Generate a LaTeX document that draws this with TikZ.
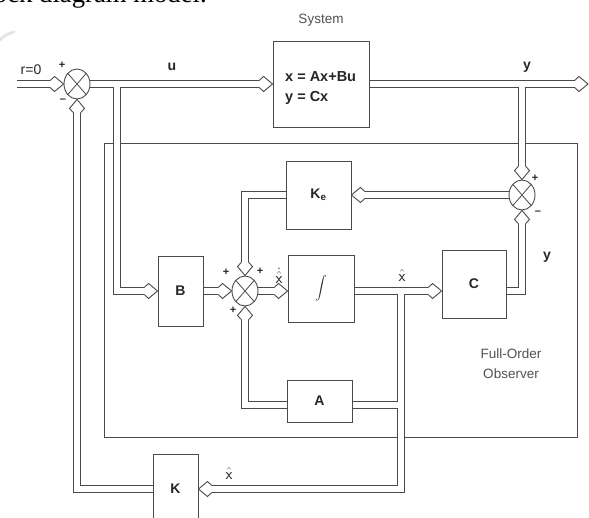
\documentclass[tikz,border=0pt]{standalone}
\usepackage{fontspec}
\setmainfont{Liberation Sans}
\newfontfamily\capfont{Liberation Serif}
\usetikzlibrary{shapes.geometric}
\pgfdeclarelayer{obs}\pgfdeclarelayer{po}\pgfdeclarelayer{pi}\pgfdeclarelayer{heads}
\pgfsetlayers{obs,po,pi,main,heads}
\definecolor{lc}{HTML}{4A4A4A}
\definecolor{tc}{HTML}{262626}
\tikzset{
 pipeouter/.style={draw=lc, line width=7.8pt, line join=miter},
 pipeinner/.style={draw=white, line width=6pt, line join=miter},
 blk/.style={draw=lc, fill=white, line width=0.9pt, rectangle, inner sep=0pt,
   font=\fontsize{14}{16}\selectfont\bfseries, text=tc},
 sumj/.style={ellipse, draw=lc, fill=white, line width=0.9pt, minimum width=26pt,
   minimum height=30pt, inner sep=0pt,
   path picture={\draw[lc, line width=0.8pt]
     (path picture bounding box.north west) -- (path picture bounding box.south east)
     (path picture bounding box.north east) -- (path picture bounding box.south west);}},
 lbl/.style={font=\fontsize{14}{16}\selectfont\bfseries, text=tc, inner sep=0pt},
 hatlbl/.style={font=\fontsize{16}{18}\selectfont, text=tc, inner sep=0pt},
 thin/.style={font=\fontsize{13.5}{20}\selectfont, text=tc!80, inner sep=0pt},
 sgn/.style={font=\fontsize{11}{11}\selectfont\bfseries, text=tc, inner sep=0pt},
 hh/.pic={
   \fill[white] (-13,-3.4) -- (-9,-7.5) -- (0,0) -- (-9,7.5) -- (-13,3.4) -- cycle;
   \draw[lc, line width=0.9pt, line join=miter] (-13,-3.9) -- (-9,-7.5) -- (0,0) -- (-9,7.5) -- (-13,3.9);
 }
}
\newcommand\pipe[2][]{%
 \begin{pgfonlayer}{po}\path[pipeouter,#1] #2;\end{pgfonlayer}%
 \begin{pgfonlayer}{pi}\path[pipeinner,#1] #2;\end{pgfonlayer}}
\begin{document}
\begin{tikzpicture}[x=1pt, y=-1pt]
\useasboundingbox (0,0) rectangle (589,518);
\clip (0,0) rectangle (589,518);
% cropped caption and smudge
\node[anchor=base west, inner sep=0pt, font=\fontsize{26.7}{30}\selectfont\capfont] (cap) at (-27,3) {block diagram model.};
\draw[black!10, line width=3pt, line cap=round] (0,40) .. controls (5,35) .. (14,32);
% observer frame
\begin{pgfonlayer}{obs}
\draw[lc, line width=0.9pt] (104,143) rectangle (577,437);
\end{pgfonlayer}
\node[thin, align=center] (obslbl) at (511,364) {Full-Order\\Observer};
% blocks
\node[blk, minimum width=96pt, minimum height=86pt] (sys) at (321,84) {};
\node[lbl, font=\fontsize{14.5}{20}\selectfont\bfseries, align=left, anchor=west] (eq) at (285,88) {x = Ax+Bu\\y = Cx};
\node[thin] (systxt) at (321,20) {System};
\node[blk, minimum width=65pt, minimum height=68pt] (Ka) at (318.5,195) {K\textsubscript{e}};
\node[blk, minimum width=45pt, minimum height=70pt] (B) at (180.5,291) {B};
\node[blk, minimum width=66pt, minimum height=67pt] (I) at (321,288.5) {\scalebox{1.15}{$\displaystyle\int$}};
\node[blk, minimum width=64pt, minimum height=68pt] (C) at (474,284) {C};
\node[blk, minimum width=65pt, minimum height=42pt] (A) at (319.5,401) {A};
\node[blk, minimum width=45pt, minimum height=70pt] (K) at (175.5,489) {K};
% summing junctions
\node[sumj] (s1) at (77,84) {};
\node[sumj] (s2) at (522,195) {};
\node[sumj] (s3) at (245,291) {};
% branch points and free ends
\coordinate (inp) at (17,84);
\coordinate (outp) at (588,84);
\coordinate (bu) at (117,84);
\coordinate (by) at (522,84);
\coordinate (bx) at (401,291);
\coordinate (ba) at (401,405);
% connectors (double lines)
\pipe[shorten >=8pt]{(inp) -- (s1.west)}
\pipe[shorten >=8pt]{(s1.east) -- (sys.west)}
\pipe[shorten >=8pt]{(bu) -- (bu |- B) -- (B.west)}
\pipe[shorten >=8pt]{(sys.east) -- (outp)}
\pipe[shorten >=8pt]{(by) -- (s2.north)}
\pipe[shorten >=8pt]{(s2.west) -- (Ka.east)}
\pipe[shorten >=8pt]{(Ka.west) -- (Ka.west -| s3) -- (s3.north)}
\pipe[shorten >=8pt]{(B.east) -- (s3.west)}
\pipe[shorten >=8pt]{(s3.east) -- (I.west |- s3)}
\pipe[shorten >=8pt]{(I.east |- s3) -- (C.west |- s3)}
\pipe[shorten >=8pt]{(C.east |- s3) -- (s3 -| s2) -- (s2.south)}
\pipe[shorten >=8pt]{(bx) -- (bx |- K) -- (K.east)}
\pipe{(ba) -- (A.east |- ba)}
\pipe[shorten >=8pt]{(A.west |- ba) -- (ba -| s3) -- (s3.south)}
\pipe[shorten >=8pt]{(K.west) -- (K.west -| s1) -- (s1.south)}
% arrow heads
\begin{pgfonlayer}{heads}
\pic at (s1.west) {hh};
\pic at (sys.west) {hh};
\pic at (outp) {hh};
\pic at (B.west) {hh};
\pic at (s3.west) {hh};
\pic at (I.west |- s3) {hh};
\pic at (C.west |- s3) {hh};
\pic[rotate=-90] at (s2.north) {hh};
\pic[rotate=-90] at (s3.north) {hh};
\pic[rotate=180] at (Ka.east) {hh};
\pic[rotate=180] at (K.east) {hh};
\pic[rotate=90] at (s2.south) {hh};
\pic[rotate=90] at (s3.south) {hh};
\pic[rotate=90] at (s1.south) {hh};
\end{pgfonlayer}
% labels
\node[lbl, font=\fontsize{14}{16}\selectfont] (r0) at (31,70) {r=0};
\node[sgn] at (62,65) {+};
\node[sgn] at (63,101) {--};
\node[lbl] (ulbl) at (172,67) {u};
\node[lbl] (ylbl) at (527,67) {y};
\node[sgn] at (535,178) {+};
\node[sgn] at (538,213) {--};
\node[lbl] (y2lbl) at (547,257) {y};
\node[sgn] at (226,272) {+};
\node[sgn] at (260,271) {+};
\node[sgn] at (233,310) {+};
\node[hatlbl] (xdh) at (279,276) {$\dot{\hat{\mathsf{x}}}$};
\node[hatlbl] (xh1) at (402,276) {$\hat{\mathsf{x}}$};
\node[hatlbl] (xh2) at (229,473) {$\hat{\mathsf{x}}$};
\end{tikzpicture}
\end{document}
